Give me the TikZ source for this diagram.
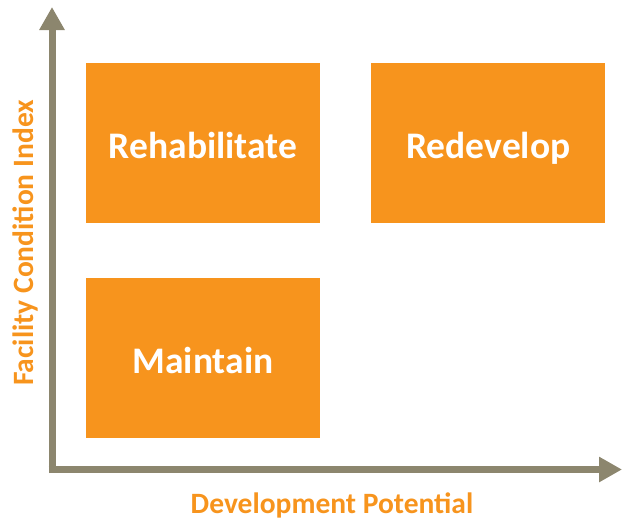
\documentclass[tikz,border=0pt]{standalone}
\usepackage{fontspec}
\setmainfont{Carlito}
\usetikzlibrary{positioning, arrows.meta}
\definecolor{axisgray}{RGB}{140,134,110}
\definecolor{boxorange}{RGB}{247,148,29}

\begin{document}
\begin{tikzpicture}[x=1pt, y=-1pt,
		quadrant/.style = {fill = boxorange, text = white, font = \bfseries\fontsize{37.5}{42}\selectfont, text height = 30pt, text depth = 0pt, minimum width = 234pt, minimum height = 160pt, inner sep = 0pt},
		axislabel/.style = {text = boxorange, font = \bfseries\fontsize{29.5}{34}\selectfont},
		axisline/.style = {draw = axisgray, line width = 7pt, -{Triangle[width = 24pt, length = 23pt]}}]
		\useasboundingbox (0,0) rectangle (624,523);
		% the three boxes
		\node[quadrant] (rehab) at (203,143) {Rehabilitate};
		\node[quadrant, right = 51pt of rehab] (redev) {Redevelop};
		\node[quadrant, below = 55pt of rehab] (maint) {Maintain};
		% axes
		\coordinate (origin) at (52,469.5);
		\coordinate (ytop) at (52,7);
		\coordinate (xend) at (622,469.5);
		\draw[axisline] ([yshift = -3.5pt]origin) -- (ytop);
		\draw[axisline] ([xshift = -3.5pt]origin) -- (xend);
		\node[axislabel, rotate = 90] (ylab) at (25,243) {Facility Condition Index};
		\node[axislabel] (xlab) at (332,505) {Development Potential};
	\end{tikzpicture}
\end{document}
